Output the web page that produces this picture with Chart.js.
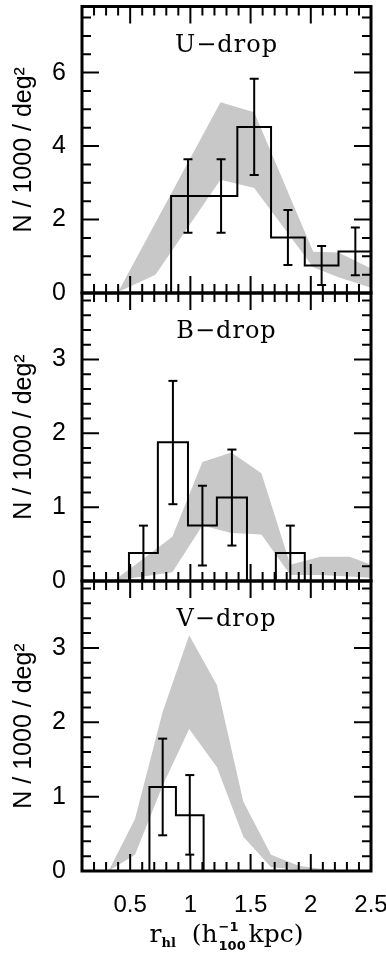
<!DOCTYPE html>
<html>
<head>
<meta charset="utf-8">
<title>Size distribution of dropouts</title>
<script src="https://cdn.jsdelivr.net/npm/chart.js@4.4.1/dist/chart.umd.min.js"></script>
<style>
  body { margin: 0; background: #fff; }
  #wrap { position: relative; width: 386px; height: 960px; }
  #wrap canvas { position: absolute; left: 0; top: 0; }
  #xtitle {
    position: absolute; left: 82px; width: 289px; top: 920px;
    text-align: center; white-space: nowrap;
    font: 25px "DejaVu Serif"; line-height: 28px; color: #000;
  }
  #xtitle .lo { font: bold 13px "DejaVu Serif"; position: relative; top: 5px; }
  #xtitle .st { display: inline-block; position: relative; width: 31px; height: 1px; }
  #xtitle .st span { position: absolute; left: 1px; font: bold 13px "DejaVu Sans"; line-height: 13px; }
  #xtitle .st .up { top: -21px; }
  #xtitle .st .dn { top: -2px; }
</style>
</head>
<body>
<div id="wrap">
  <canvas id="pU" width="386" height="960"></canvas>
  <canvas id="pB" width="386" height="960"></canvas>
  <canvas id="pV" width="386" height="960"></canvas>
  <div id="xtitle">r<span class="lo">hl</span>&nbsp;&nbsp;(h<span class="st"><span class="up">−1</span><span class="dn">100</span></span>kpc)</div>
</div>
<script>
// half-light radius axis (h^-1_100 kpc)
const xTickLabels = [0.5, 1, 1.5, 2, 2.5];

// U-dropouts: observed histogram with Poisson errors
const uEdges = [0.84, 1.12, 1.39, 1.67, 1.95, 2.23, 2.51];
const uCounts = [2.64, 2.64, 4.52, 1.51, 0.75, 1.13];
const uErrLo = [1.64, 1.64, 3.21, 0.76, 0.22, 0.48];
const uErrHi = [3.64, 3.64, 5.83, 2.26, 1.28, 1.78];
// U-dropouts: model range
const uBandX = [0.40, 0.71, 1.25, 1.53, 2.02, 2.23, 2.51];
const uBandHi = [0.03, 1.91, 5.19, 4.92, 1.12, 1.10, 0.65];
const uBandLo = [0.03, 0.50, 3.08, 2.86, 0.70, 0.43, 0.13];
const uYTicks = [0, 2, 4, 6];

// B-dropouts
const bEdges = [0.49, 0.73, 0.98, 1.22, 1.47, 1.71, 1.95];
const bCounts = [0.38, 1.88, 0.75, 1.13, 0, 0.38];
const bErrLo = [0, 1.04, 0.21, 0.48, null, 0];
const bErrHi = [0.75, 2.71, 1.29, 1.78, null, 0.75];
const bBandX = [0.37, 0.61, 0.85, 1.10, 1.34, 1.59, 1.83, 2.08, 2.32, 2.57];
const bBandHi = [0.01, 0.30, 0.60, 1.61, 1.74, 1.46, 0.22, 0.33, 0.33, 0.18];
const bBandLo = [0.01, 0.06, 0.12, 0.75, 0.65, 0.63, 0.08, 0.08, 0.06, 0.04];
const bYTicks = [0, 1, 2, 3];

// V-dropouts
const vEdges = [0.66, 0.88, 1.11];
const vCounts = [1.13, 0.75];
const vErrLo = [0.48, 0.22];
const vErrHi = [1.78, 1.29];
const vBandX = [0.32, 0.54, 0.77, 0.99, 1.22, 1.44, 1.67, 1.90, 2.12, 2.35];
const vBandHi = [0, 0.70, 2.14, 3.17, 2.50, 0.93, 0.22, 0.07, 0.02, 0];
const vBandLo = [0, 0.22, 1.15, 1.91, 1.40, 0.46, 0.05, 0.02, 0, 0];
const vYTicks = [0, 1, 2, 3];

const sans = 'Liberation Sans';

function outline(edges, vals) {
  const pts = [{ x: edges[0], y: 0 }];
  vals.forEach((v, i) => pts.push({ x: edges[i], y: v }, { x: edges[i + 1], y: v }));
  pts.push({ x: edges[edges.length - 1], y: 0 });
  return pts;
}

function errSticks(edges, lo, hi) {
  const pts = [];
  lo.forEach((l, i) => {
    if (l == null) return;
    const c = (edges[i] + edges[i + 1]) / 2;
    pts.push({ x: c, y: l }, { x: c, y: hi[i] }, { x: c, y: null });
  });
  return pts;
}

function errCaps(edges, lo, hi) {
  const pts = [];
  lo.forEach((l, i) => {
    if (l == null) return;
    const c = (edges[i] + edges[i + 1]) / 2;
    pts.push({ x: c, y: l }, { x: c, y: hi[i] });
  });
  return pts;
}

function band(xs, hi, lo) {
  const up = xs.map((x, i) => ({ x, y: hi[i] }));
  const down = xs.map((x, i) => ({ x, y: lo[i] })).reverse();
  return up.concat(down);
}

function makePanel(id, p) {
  // box with inward ticks on all four sides + panel name
  const frame = {
    id: 'frame',
    afterDatasetsDraw(chart) {
      const { ctx, chartArea: a, scales: { x, y } } = chart;
      ctx.save();
      ctx.strokeStyle = '#000';
      ctx.lineWidth = 2;
      ctx.beginPath();
      for (let k = 2; k <= 24; k++) {
        const px = x.getPixelForValue(k / 10);
        const len = k % 5 === 0 ? 17 : 9;
        ctx.moveTo(px, a.bottom); ctx.lineTo(px, a.bottom - len);
        ctx.moveTo(px, a.top); ctx.lineTo(px, a.top + len);
      }
      for (let v = p.yMinor; v < p.yMax - 1e-6; v += p.yMinor) {
        const py = y.getPixelForValue(v);
        const major = p.yTicks.some(t => Math.abs(t - v) < 1e-6);
        const len = major ? 17 : 9;
        ctx.moveTo(a.left, py); ctx.lineTo(a.left + len, py);
        ctx.moveTo(a.right, py); ctx.lineTo(a.right - len, py);
      }
      ctx.stroke();
      ctx.lineWidth = 3;
      ctx.strokeRect(a.left, a.top, a.right - a.left, a.bottom - a.top);
      ctx.fillStyle = '#000';
      ctx.font = '24px "DejaVu Serif"';
      ctx.letterSpacing = '1px';
      ctx.textAlign = 'center';
      ctx.textBaseline = 'alphabetic';
      ctx.fillText(p.label, (a.left + a.right) / 2, a.top + 45);
      ctx.restore();
    }
  };

  new Chart(document.getElementById(id), {
    type: 'line',
    data: {
      datasets: [
        { data: errSticks(p.edges, p.lo, p.hi), borderColor: '#000', borderWidth: 2, pointRadius: 0, order: 0 },
        { data: errCaps(p.edges, p.lo, p.hi), showLine: false, pointStyle: 'line', pointRadius: 4.5,
          pointBorderColor: '#000', pointBorderWidth: 2, order: 0 },
        { data: outline(p.edges, p.counts), borderColor: '#000', borderWidth: 2, pointRadius: 0, order: 1 },
        { data: band(p.bx, p.bhi, p.blo), fill: 'shape', backgroundColor: '#c8c8c8',
          borderWidth: 0, pointRadius: 0, order: 5 }
      ]
    },
    options: {
      responsive: false,
      animation: false,
      events: [],
      layout: { padding: { top: p.top, bottom: p.bottom, left: 0, right: 15 } },
      plugins: { legend: { display: false }, tooltip: { enabled: false } },
      scales: {
        x: {
          type: 'linear', min: 0.1, max: 2.5, display: p.showX,
          afterBuildTicks: s => { s.ticks = xTickLabels.map(v => ({ value: v })); },
          afterFit: s => { s.height = p.showX ? 89 : 0; s.paddingLeft = 0; s.paddingRight = 0; },
          grid: { display: false, drawTicks: false },
          border: { display: false },
          ticks: { color: '#000', padding: 20, maxRotation: 0, autoSkip: false,
                   font: { family: sans, size: 24 }, callback: v => String(v) }
        },
        y: {
          type: 'linear', min: 0, max: p.yMax,
          afterBuildTicks: s => { s.ticks = p.yTicks.map(v => ({ value: v })); },
          afterFit: s => { s.width = 82; s.paddingTop = 0; s.paddingBottom = 0; },
          grid: { display: false, drawTicks: false },
          border: { display: false },
          ticks: { color: '#000', padding: 16, autoSkip: false,
                   font: { family: sans, size: 25 }, callback: v => String(v) },
          title: { display: true, text: 'N / 1000 / deg²', color: '#000',
                   font: { family: sans, size: 25 }, padding: { top: 9, bottom: 0 } }
        }
      }
    },
    plugins: [frame]
  });
}

makePanel('pU', { label: 'U−drop', edges: uEdges, counts: uCounts, lo: uErrLo, hi: uErrHi,
  bx: uBandX, bhi: uBandHi, blo: uBandLo, yTicks: uYTicks, yMax: 7.8, yMinor: 0.5,
  top: 3, bottom: 667, showX: false });
makePanel('pB', { label: 'B−drop', edges: bEdges, counts: bCounts, lo: bErrLo, hi: bErrHi,
  bx: bBandX, bhi: bBandHi, blo: bBandLo, yTicks: bYTicks, yMax: 3.9, yMinor: 0.2,
  top: 293, bottom: 379, showX: false });
makePanel('pV', { label: 'V−drop', edges: vEdges, counts: vCounts, lo: vErrLo, hi: vErrHi,
  bx: vBandX, bhi: vBandHi, blo: vBandLo, yTicks: vYTicks, yMax: 3.9, yMinor: 0.2,
  top: 581, bottom: 0, showX: true });
</script>
</body>
</html>
